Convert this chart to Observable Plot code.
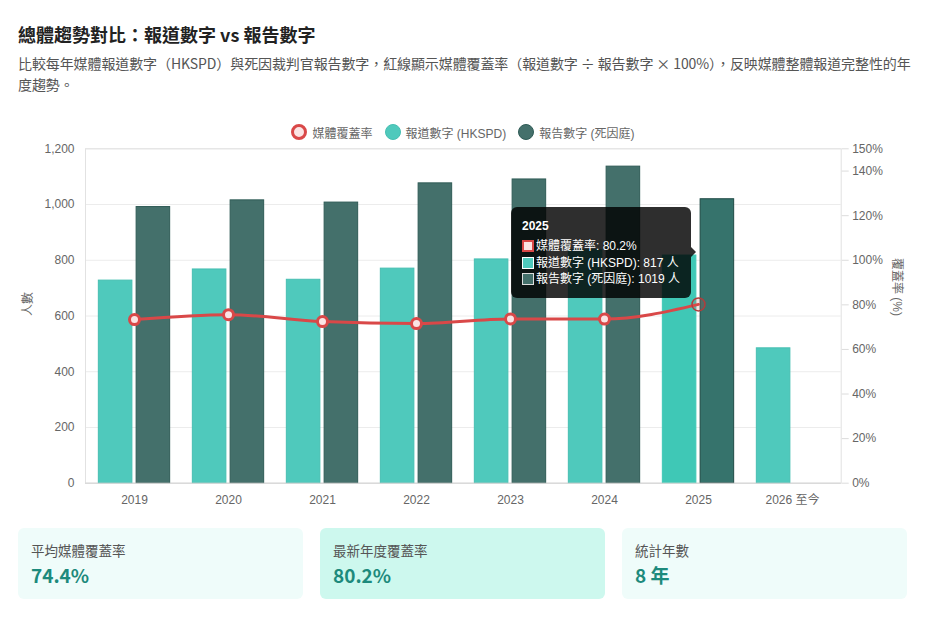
<!DOCTYPE html>
<html><head><meta charset="utf-8">
<script src="https://cdn.jsdelivr.net/npm/d3@7"></script>
<script src="https://cdn.jsdelivr.net/npm/@observablehq/plot@0.6"></script>
<style>
body{margin:0;background:#fff;font-family:"Liberation Sans","Noto Sans CJK TC",sans-serif;}
#page{position:relative;width:932px;height:618px;overflow:hidden}
.title{position:absolute;left:18px;top:21px;font-family:"Noto Sans CJK TC",sans-serif;font-weight:700;font-size:18px;color:#222;line-height:26px;white-space:nowrap}
.sub{position:absolute;left:18px;top:53px;width:896px;font-family:"Noto Sans CJK TC",sans-serif;font-size:14px;letter-spacing:-0.1px;line-height:21px;color:#555}
#legend{position:absolute;top:122px;left:85px;width:756px;height:20px;display:flex;justify-content:center;align-items:center;font-size:12px;color:#666;gap:12px}
#legend .it{display:flex;align-items:center;gap:5px}
#legend .sw{width:16px;height:16px;border-radius:50%;box-sizing:border-box}
#chart{position:absolute;left:0;top:140px}
#chart svg{font-family:"Liberation Sans","Noto Sans CJK TC",sans-serif;font-size:12px;overflow:visible}
#tip{position:absolute;background:rgba(0,0,0,0.82);border-radius:6px;color:#fff;font-size:12px;padding:12px 11px 10px 11px;box-sizing:border-box;white-space:nowrap}
#tip .t{font-weight:700;line-height:14px;margin-bottom:5px}
#tip .r{display:flex;align-items:center;line-height:16.5px}
#tip .b{width:12px;height:12px;box-sizing:border-box;margin-right:2px}
#tip:after{content:"";position:absolute;right:-5px;top:50%;margin-top:-5px;border-left:5px solid rgba(0,0,0,0.82);border-top:5px solid transparent;border-bottom:5px solid transparent}
.cards{position:absolute;top:528px;left:18px;display:flex;gap:17px}
.card{width:285px;height:71px;border-radius:6px;box-sizing:border-box;padding:12px 13px;font-family:"Noto Sans CJK TC",sans-serif}
.card .l{font-size:13.5px;color:#555;line-height:20px}
.card .v{font-size:19px;font-weight:700;color:#1d8a7c;line-height:26px;margin-top:2px}
</style></head>
<body>
<div id="page">
  <div class="title">總體趨勢對比：報道數字 vs 報告數字</div>
  <div class="sub">比較每年媒體報道數字（HKSPD）與死因裁判官報告數字，紅線顯示媒體覆蓋率（報道數字 ÷ 報告數字 × 100%），反映媒體整體報道完整性的年度趨勢。</div>
  <div id="legend"></div>
  <div id="chart"></div>
  <div class="cards" id="cards"></div>
</div>
<script>
// ---- data ----
const years = ["2019","2020","2021","2022","2023","2024","2025","2026 至今"];
const hkspd = [727, 767, 730, 770, 803, 836, 817, 484];          // 報道數字 (HKSPD)
const coroner = [991, 1015, 1007, 1076, 1090, 1136, 1019, null]; // 報告數字 (死因庭)
const coverage = [73.4, 75.6, 72.5, 71.6, 73.7, 73.6, 80.2, null]; // 媒體覆蓋率 %
const leftTicks = [0, 200, 400, 600, 800, 1000, 1200];
const rightTicks = [0, 20, 40, 60, 80, 100, 120, 140, 150];
const seriesNames = ["媒體覆蓋率", "報道數字 (HKSPD)", "報告數字 (死因庭)"];
const hoverYear = "2025";

// ---- styles ----
const TEAL = "#4fc9bc", TEAL_H = "#3fc8b6", TEAL_S = "#46bfb2";
const DARK = "#44706b", DARK_H = "#36736c", DARK_S = "#2f5b56", DARK_HS = "#1e4a45";
const RED = "#d94848";
const RMAX = 150, CMAX = 1200, K = CMAX / RMAX;

const rows = years.map((y, i) => ({year: y, hk: hkspd[i], co: coroner[i], rate: coverage[i]}));
const coRows = rows.filter(d => d.co != null);
const rateRows = rows.filter(d => d.rate != null);

const W = 932, H = 370, ML = 85, MR = 91.3, MT = 8.3, MB = 27.3;
const bw = (W - ML - MR) / years.length;
const group = bw * 0.8, slot = group / 2, barW = slot * 0.9;
const off0 = (bw - group) / 2 + (slot - barW) / 2;
const off1 = off0 + slot;

const plot = Plot.plot({
  width: W, height: H,
  marginLeft: ML, marginRight: MR, marginTop: MT, marginBottom: MB,
  x: {type: "band", domain: years, padding: 0, axis: null},
  y: {domain: [0, CMAX], axis: null},
  marks: [
    Plot.gridY(leftTicks, {stroke: "#ececec", strokeOpacity: 1}),
    Plot.frame({stroke: "#e2e2e2"}),
    Plot.barY(rows, {filter: d => d.year !== hoverYear, x: "year", y: "hk", fill: TEAL, stroke: TEAL_S, strokeWidth: 1, insetLeft: off0, insetRight: bw - off0 - barW}),
    Plot.barY(rows, {filter: d => d.year === hoverYear, x: "year", y: "hk", fill: TEAL_H, stroke: TEAL_H, strokeWidth: 1, insetLeft: off0, insetRight: bw - off0 - barW}),
    Plot.barY(coRows, {filter: d => d.year !== hoverYear, x: "year", y: "co", fill: DARK, stroke: DARK_S, strokeWidth: 1, insetLeft: off1, insetRight: bw - off1 - barW}),
    Plot.barY(coRows, {filter: d => d.year === hoverYear, x: "year", y: "co", fill: DARK_H, stroke: DARK_HS, strokeWidth: 1, insetLeft: off1, insetRight: bw - off1 - barW}),
    Plot.ruleY([0], {stroke: "#d6d6d6"}),
    Plot.line(rateRows, {x: "year", y: d => d.rate * K, curve: "monotone-x", stroke: RED, strokeWidth: 3}),
    Plot.dot(rateRows, {filter: d => d.year !== hoverYear, x: "year", y: d => d.rate * K, r: 5, fill: "#fbe4e4", stroke: RED, strokeWidth: 3}),
    Plot.dot(rateRows, {filter: d => d.year === hoverYear, x: "year", y: d => d.rate * K, r: 6.5, fill: "rgba(217,72,72,0.18)", stroke: "#b23c3c", strokeWidth: 1.5}),
    Plot.axisY({anchor: "left", ticks: leftTicks, tickFormat: d3.format(","), tickSize: 0, tickPadding: 11, fill: "#666", label: null}),
    Plot.axisY({anchor: "right", ticks: rightTicks.map(v => v * K), tickFormat: d => (d / K) + "%", tickSize: 7, tickPadding: 4, stroke: "#dcdcdc", fill: "#666", label: null}),
    Plot.axisX({anchor: "bottom", tickSize: 0, tickPadding: 12, fill: "#666", label: null}),
    Plot.text(["人數"], {frameAnchor: "left", dx: -57, rotate: -90, fill: "#666", fontSize: 12}),
    Plot.text(["覆蓋率 (%)"], {frameAnchor: "right", dx: 56, rotate: 90, fill: "#666", fontSize: 12})
  ]
});
const chart = document.getElementById("chart");
chart.appendChild(plot);

// ---- legend ----
const legendSw = [
  {bg: "#fbe4e4", bd: "3px solid " + RED},
  {bg: TEAL, bd: "1px solid " + TEAL_S},
  {bg: DARK, bd: "1px solid " + DARK_S}
];
document.getElementById("legend").innerHTML = seriesNames.map((n, i) =>
  `<div class="it"><div class="sw" style="background:${legendSw[i].bg};border:${legendSw[i].bd}"></div><span>${n}</span></div>`).join("");

// ---- tooltip (positioned through the plot's own scales) ----
const xs = plot.scale("x"), ys = plot.scale("y");
const hi = years.indexOf(hoverYear);
const cx = xs.apply(hoverYear) + xs.bandwidth / 2;
const cy = (ys.apply(hkspd[hi]) + ys.apply(coroner[hi]) + ys.apply(coverage[hi] * K)) / 3;
const tip = document.createElement("div");
tip.id = "tip";
tip.innerHTML = `<div class="t">${hoverYear}</div>
<div class="r"><div class="b" style="background:#fbe4e4;border:2px solid ${RED}"></div>${seriesNames[0]}: ${coverage[hi]}%</div>
<div class="r"><div class="b" style="background:${TEAL};border:1px solid #fff"></div>${seriesNames[1]}: ${hkspd[hi]} 人</div>
<div class="r"><div class="b" style="background:${DARK};border:1px solid #ddd"></div>${seriesNames[2]}: ${coroner[hi]} 人</div>`;
chart.appendChild(tip);
const tw = tip.offsetWidth, th = tip.offsetHeight;
tip.style.left = (cx - 7 - tw) + "px";
tip.style.top = (cy - th / 2) + "px";

// ---- stat cards ----
const valid = coverage.filter(v => v != null);
const avg = d3.mean(valid);
const cards = [
  {l: "平均媒體覆蓋率", v: avg.toFixed(1) + "%", bg: "#effcfa"},
  {l: "最新年度覆蓋率", v: valid[valid.length - 1].toFixed(1) + "%", bg: "#cdf8ee"},
  {l: "統計年數", v: years.length + " 年", bg: "#effcfa"}
];
document.getElementById("cards").innerHTML = cards.map(c =>
  `<div class="card" style="background:${c.bg}"><div class="l">${c.l}</div><div class="v">${c.v}</div></div>`).join("");
</script>
</body></html>
